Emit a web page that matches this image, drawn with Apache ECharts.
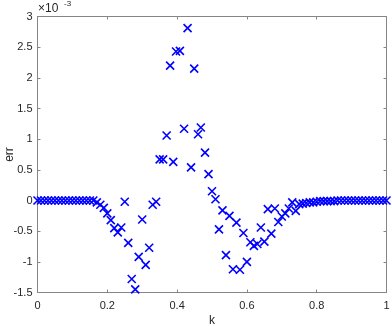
<!DOCTYPE html>
<html>
<head>
<meta charset="utf-8">
<script src="https://cdn.jsdelivr.net/npm/echarts@6/dist/echarts.min.js"></script>
<style>
  html, body { margin: 0; padding: 0; background: #fff; }
  #chart { width: 392px; height: 326px; }
</style>
</head>
<body>
<div id="chart"></div>
<script>
// k positions and err values (in units of 1e-3)
const kValues = [
  0.00, 0.01, 0.02, 0.03, 0.04, 0.05, 0.06, 0.07, 0.08, 0.09,
  0.10, 0.11, 0.12, 0.13, 0.14, 0.15, 0.16, 0.17, 0.18, 0.19,
  0.20, 0.21, 0.22, 0.23, 0.24, 0.25, 0.26, 0.27, 0.28, 0.29,
  0.30, 0.31, 0.32, 0.33, 0.34, 0.35, 0.36, 0.37, 0.38, 0.389,
  0.397, 0.408, 0.42, 0.43, 0.44, 0.449, 0.46, 0.468, 0.48, 0.49,
  0.50, 0.51, 0.52, 0.53, 0.54, 0.55, 0.56, 0.57, 0.58, 0.59,
  0.60, 0.61, 0.62, 0.63, 0.64, 0.65, 0.66, 0.67, 0.68, 0.69,
  0.70, 0.71, 0.72, 0.73, 0.74, 0.75, 0.76, 0.77, 0.78, 0.79,
  0.80, 0.81, 0.82, 0.83, 0.84, 0.85, 0.86, 0.87, 0.88, 0.89,
  0.90, 0.91, 0.92, 0.93, 0.94, 0.95, 0.96, 0.97, 0.98, 0.99,
  1.00
];
const errValues = [
  0, 0, 0, 0, 0, 0, 0, 0, 0, 0,
  0, 0, 0, 0, 0, 0, 0, -0.03, -0.07, -0.12,
  -0.21, -0.32, -0.45, -0.52, -0.44, -0.02, -0.69, -1.28, -1.45, -0.92,
  -0.31, -1.05, -0.77, -0.07, -0.02, 0.67, 0.67, 1.06, 2.2, 0.63,
  2.43, 2.44, 1.17, 2.81, 0.54, 2.15, 1.08, 1.19, 0.78, 0.43,
  0.15, 0.02, -0.47, -0.16, -0.89, -0.25, -1.12, -0.36, -1.13, -0.53,
  -1.0, -0.68, -0.74, -0.71, -0.44, -0.67, -0.14, -0.54, -0.13, -0.35,
  -0.26, -0.21, -0.13, -0.03, -0.17, -0.06, -0.05, -0.04, -0.03, -0.03,
  -0.02, -0.01, -0.01, -0.01, -0.01, -0.01, 0, 0, 0, 0,
  0, 0, 0, 0, 0, 0, 0, 0, 0, 0,
  0
];
const xTicks = { min: 0, max: 1, interval: 0.2 };
const yTicks = { min: -1.5, max: 3, interval: 0.5 };

const points = kValues.map((k, i) => [k, errValues[i]]);

const axisColor = '#868686';
const labelColor = '#262626';
const font = 'Liberation Sans, Arial, sans-serif';

const frameAxis = (extra) => Object.assign({
  type: 'value',
  axisLine: { show: true, onZero: false, lineStyle: { color: axisColor, width: 1 } },
  axisTick: { show: true, inside: true, length: 3, lineStyle: { color: axisColor } },
  splitLine: { show: false },
  axisLabel: { show: false }
}, extra);

const myChart = echarts.init(document.getElementById('chart'));
myChart.setOption({
  animation: false,
  grid: { left: 37.5, right: 5.5, top: 16.5, bottom: 33.5, containLabel: false, outerBoundsMode: 'none' },
  xAxis: [
    frameAxis({
      min: xTicks.min, max: xTicks.max, interval: xTicks.interval,
      position: 'bottom',
      axisLabel: { show: true, color: labelColor, fontSize: 11, fontFamily: font, margin: 8 },
      name: 'k', nameLocation: 'middle', nameGap: 22, nameMoveOverlap: false,
      nameTextStyle: { color: labelColor, fontSize: 12, fontFamily: font }
    }),
    frameAxis({ min: xTicks.min, max: xTicks.max, interval: xTicks.interval, position: 'top' })
  ],
  yAxis: [
    frameAxis({
      min: yTicks.min, max: yTicks.max, interval: yTicks.interval,
      position: 'left',
      axisLabel: { show: true, color: labelColor, fontSize: 11, fontFamily: font, margin: 5 },
      name: 'err', nameLocation: 'middle', nameGap: 22, nameMoveOverlap: false,
      nameTextStyle: { color: labelColor, fontSize: 12, fontFamily: font }
    }),
    frameAxis({ min: yTicks.min, max: yTicks.max, interval: yTicks.interval, position: 'right' })
  ],
  graphic: [
    { type: 'text', left: 38, top: 3, style: { text: '×10', fill: labelColor, font: '12px ' + font } },
    { type: 'text', left: 64, top: 0, style: { text: '-3', fill: labelColor, font: '8px ' + font } }
  ],
  series: [{
    type: 'scatter',
    data: points,
    symbol: 'path://M0,0L10,10M10,0L0,10',
    symbolSize: 8,
    itemStyle: { color: 'rgba(0,0,0,0)', borderColor: '#0000ff', borderWidth: 1.6, opacity: 1 }
  }]
});
</script>
</body>
</html>
